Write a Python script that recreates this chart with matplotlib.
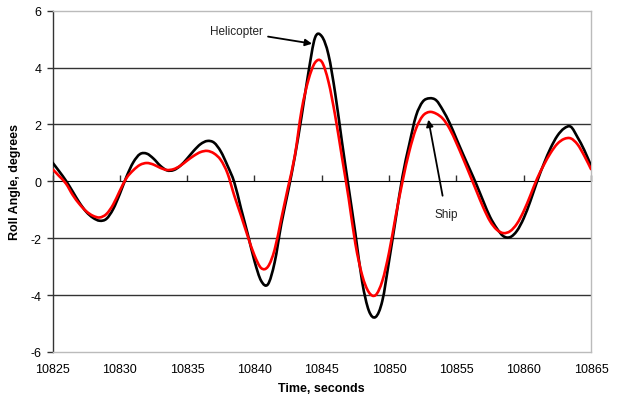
import matplotlib
matplotlib.use("Agg")
import matplotlib.pyplot as plt
from matplotlib.path import Path
from matplotlib.patches import PathPatch
import numpy as np

plt.rcParams['font.family'] = ['Liberation Sans', 'DejaVu Sans']

time_s = np.arange(10825.0, 10865.01, 0.5)

helicopter = [0.66, 0.35, 0.02, -0.36, -0.75, -1.07, -1.28, -1.385, -1.32, -0.98,
              -0.44, 0.17, 0.67, 0.96, 0.975, 0.80, 0.55, 0.386, 0.396, 0.55,
              0.80, 1.08, 1.31, 1.42, 1.36, 1.05, 0.55, -0.03, -0.95, -1.85,
              -2.80, -3.50, -3.62, -2.85, -1.49, -0.35, 0.87, 2.28, 3.80, 5.05,
              5.10, 4.45, 3.09, 1.39, -0.23, -1.84, -3.53, -4.55, -4.77, -4.20,
              -2.80, -1.30, 0.18, 1.30, 2.30, 2.80, 2.92, 2.85, 2.50, 2.05,
              1.50, 0.95, 0.42, -0.12, -0.70, -1.25, -1.65, -1.93, -1.96, -1.74,
              -1.30, -0.69, 0.00, 0.62, 1.17, 1.60, 1.86, 1.92, 1.55, 1.10,
              0.55]

ship = [0.43, 0.18, -0.08, -0.48, -0.80, -1.05, -1.21, -1.27, -1.15, -0.82,
        -0.33, 0.12, 0.39, 0.58, 0.645, 0.59, 0.475, 0.40, 0.43, 0.55,
        0.73, 0.90, 1.03, 1.07, 0.98, 0.75, 0.28, -0.50, -1.20, -1.93,
        -2.60, -3.05, -3.00, -2.40, -1.30, -0.20, 0.90, 2.50, 3.55, 4.175,
        4.205, 3.50, 2.30, 0.85, -0.60, -2.20, -3.30, -3.90, -4.00, -3.50,
        -2.50, -1.20, 0.00, 1.05, 1.85, 2.30, 2.44, 2.38, 2.20, 1.85,
        1.35, 0.80, 0.23, -0.35, -0.92, -1.40, -1.70, -1.82, -1.75, -1.49,
        -1.05, -0.49, 0.10, 0.58, 1.00, 1.32, 1.49, 1.51, 1.30, 0.90,
        0.43]

x_ticks = [10825, 10830, 10835, 10840, 10845, 10850, 10855, 10860, 10865]
y_ticks = [-6, -4, -2, 0, 2, 4, 6]


def smooth_path(xs, ys):
    """Excel-style smoothed line: Catmull-Rom segments as cubic Beziers."""
    p = np.column_stack([np.asarray(xs, float), np.asarray(ys, float)])
    n = len(p)
    verts = [p[0]]
    codes = [Path.MOVETO]
    for i in range(n - 1):
        p0 = p[i - 1] if i > 0 else p[i]
        p1 = p[i]
        p2 = p[i + 1]
        p3 = p[i + 2] if i + 2 < n else p[i + 1]
        c1 = p1 + (p2 - p0) / 6.0
        c2 = p2 - (p3 - p1) / 6.0
        verts += [c1, c2, p2]
        codes += [Path.CURVE4] * 3
    return Path(verts, codes)


fig = plt.figure(figsize=(6.18, 4.02), dpi=100)
ax = fig.add_axes([0.085, 0.1219, 0.8713, 0.849])

ax.set_xlim(10825, 10865)
ax.set_ylim(-6, 6)

for yv in [-4, -2, 2, 4]:
    ax.axhline(yv, color='#333333', lw=1.0, zorder=1)

for vals, col, z in [(helicopter, 'black', 3), (ship, '#ff0000', 4)]:
    patch = PathPatch(smooth_path(time_s, vals), facecolor='none', edgecolor=col,
                      lw=1.9, zorder=z, capstyle='round', joinstyle='round')
    patch.set_clip_on(True)
    ax.add_patch(patch)

ax.set_xticks(x_ticks)
ax.set_xticklabels([str(v) for v in x_ticks])
ax.set_yticks(y_ticks)
ax.set_yticklabels([str(v) for v in y_ticks])

for s in ['top', 'right', 'bottom']:
    ax.spines[s].set_color('#bbbbbb')
    ax.spines[s].set_linewidth(1.0)
ax.spines['left'].set_color('#333333')
ax.spines['left'].set_linewidth(1.0)

ax.tick_params(axis='x', length=0, pad=8, labelsize=9, colors='black')
ax.tick_params(axis='y', length=4, width=1, direction='out', color='#333333',
               pad=4, labelsize=9)

sec = ax.secondary_xaxis(0.5)
sec.set_xticks(x_ticks)
sec.tick_params(axis='x', length=4, width=1, direction='out', color='#333333',
                labelbottom=False, labeltop=False)
sec.spines['bottom'].set_color('#333333')
sec.spines['bottom'].set_linewidth(1.0)
sec.spines['bottom'].set_zorder(2)

ax.set_xlabel('Time, seconds', fontsize=9, fontweight='bold', labelpad=5)
ax.set_ylabel('Roll Angle, degrees', fontsize=9, fontweight='bold', labelpad=7)

ax.annotate('Helicopter', xy=(10844.28, 4.84), xytext=(10840.6, 5.27),
            fontsize=8.5, color='#222222', ha='right', va='center',
            arrowprops=dict(arrowstyle='-|>', color='black', lw=1.3,
                            mutation_scale=10, shrinkA=2, shrinkB=0))
ax.annotate('Ship', xy=(10852.92, 2.17), xytext=(10854.23, -1.15),
            fontsize=8.5, color='#222222', ha='center', va='center',
            arrowprops=dict(arrowstyle='-|>', color='black', lw=1.3,
                            mutation_scale=10, shrinkA=7, shrinkB=0))

fig.savefig('out.png', dpi=100)
